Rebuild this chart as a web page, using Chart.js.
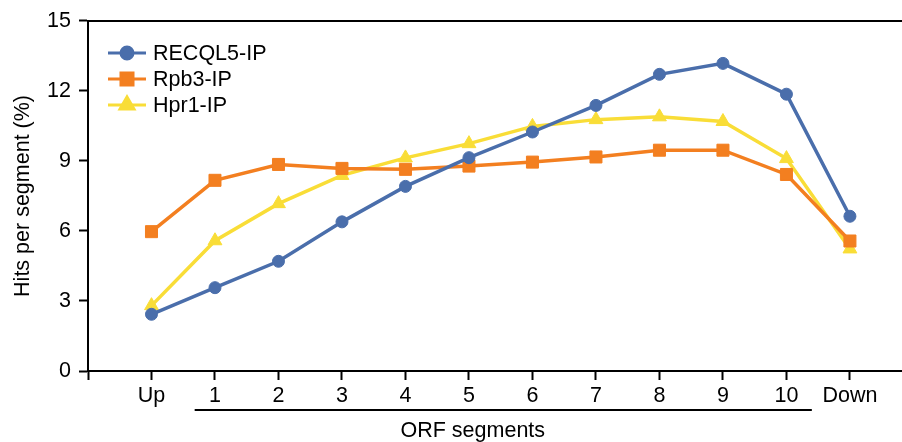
<!DOCTYPE html>
<html>
<head>
<meta charset="utf-8">
<script src="https://cdn.jsdelivr.net/npm/chart.js@4/dist/chart.umd.min.js"></script>
<style>
  html, body { margin: 0; padding: 0; background: #fff; overflow: hidden; }
  #wrap { width: 902px; height: 442px; position: relative; }
  canvas { display: block; }
</style>
</head>
<body>
<div id="wrap"><canvas id="chart"></canvas></div>
<script>
// segments along the gene
const categories = ['Up', '1', '2', '3', '4', '5', '6', '7', '8', '9', '10', 'Down'];
const yTicks = [0, 3, 6, 9, 12, 15];

// hits per segment (%)
const recql5 = [2.43, 3.57, 4.70, 6.39, 7.91, 9.14, 10.24, 11.38, 12.71, 13.18, 11.86, 6.63];
const rpb3 = [5.97, 8.17, 8.85, 8.68, 8.64, 8.78, 8.95, 9.17, 9.46, 9.46, 8.42, 5.57];
const hpr1 = [2.8, 5.58, 7.17, 8.38, 9.13, 9.74, 10.48, 10.77, 10.89, 10.69, 9.10, 5.23];

const seriesNames = ['RECQL5-IP', 'Rpb3-IP', 'Hpr1-IP'];
const colors = ['#4a6eab', '#f37f20', '#f9dd37'];
const FONT = "'Liberation Sans', Arial, sans-serif";

const toPoints = (arr) => arr.map((v, i) => ({ x: i, y: v }));

const makeSet = (label, data, color, style, radius) => ({
  label: label,
  data: toPoints(data),
  borderColor: color,
  backgroundColor: color,
  borderWidth: 3.5,
  pointStyle: style,
  pointRadius: radius,
  pointHoverRadius: radius,
  pointBorderWidth: 1,
  tension: 0
});

//draws legend, top frame line, ORF bracket and label
const extras = {
  id: 'extras',
  afterLayout(chart) {
    // let the plot run to the right edge of the canvas
    const x = chart.scales.x;
    chart.chartArea.right = chart.width;
    chart.chartArea.width = chart.chartArea.right - chart.chartArea.left;
    x.right = chart.width;
    x.width = x.right - x.left;
    x.configure();
  },
  afterDraw(chart) {
    const ctx = chart.ctx;
    const area = chart.chartArea;
    const x = chart.scales.x;
    ctx.save();
    ctx.strokeStyle = '#000';
    ctx.lineWidth = 2;
    ctx.beginPath();
    ctx.moveTo(area.left - 1, area.top);
    ctx.lineTo(area.right, area.top);
    ctx.stroke();

    // bracket under ORF segments
    ctx.beginPath();
    ctx.moveTo(x.getPixelForValue(0.68), 410);
    ctx.lineTo(x.getPixelForValue(10.4), 410);
    ctx.stroke();

    ctx.fillStyle = '#000';
    ctx.font = '21.5px ' + FONT;
    ctx.textAlign = 'center';
    ctx.textBaseline = 'middle';
    ctx.fillText('ORF segments', x.getPixelForValue(5.06), 431);

    // legend
    const styles = ['circle', 'rect', 'triangle'];
    const radii = [6, 8.5, 8];
    seriesNames.forEach((name, i) => {
      const y = 53 + i * 26;
      ctx.strokeStyle = colors[i];
      ctx.fillStyle = colors[i];
      ctx.lineWidth = 3;
      ctx.beginPath();
      ctx.moveTo(108, y);
      ctx.lineTo(146, y);
      ctx.stroke();
      Chart.helpers.drawPoint(ctx, { pointStyle: styles[i], radius: radii[i], borderWidth: 1, rotation: 0 }, 127, y);
      ctx.fillStyle = '#000';
      ctx.textAlign = 'left';
      ctx.fillText(name, 153, y + 1);
    });
    ctx.restore();
  }
};

new Chart(document.getElementById('chart'), {
  type: 'line',
  data: {
    datasets: [
      makeSet(seriesNames[0], recql5, colors[0], 'circle', 6),
      makeSet(seriesNames[1], rpb3, colors[1], 'rect', 8.5),
      makeSet(seriesNames[2], hpr1, colors[2], 'triangle', 8)
    ]
  },
  options: {
    responsive: true,
    maintainAspectRatio: false,
    animation: false,
    layout: { padding: { top: 19, right: 0, bottom: 0, left: 0 } },
    plugins: {
      legend: { display: false },
      tooltip: { enabled: false }
    },
    scales: {
      x: {
        type: 'linear',
        min: -1,
        max: 11.82,
        afterBuildTicks: (scale) => {
          scale.ticks = [];
          for (let i = -1; i < categories.length; i++) scale.ticks.push({ value: i });
        },
        afterFit: (scale) => { scale.height = 71; },
        ticks: {
          color: '#000',
          font: { family: FONT, size: 21.5 },
          padding: 3,
          maxRotation: 0,
          autoSkip: false,
          callback: (v) => (v >= 0 && v < categories.length ? categories[v] : '')
        },
        grid: { drawOnChartArea: false, drawTicks: true, tickLength: 9, tickColor: '#000', tickWidth: 2 },
        border: { color: '#000', width: 2 }
      },
      y: {
        min: 0,
        max: 15,
        afterBuildTicks: (scale) => {
          scale.ticks = yTicks.map((v) => ({ value: v }));
        },
        afterFit: (scale) => { scale.width = 88; },
        ticks: {
          color: '#000',
          font: { family: FONT, size: 21.5 },
          padding: 8
        },
        title: {
          display: true,
          text: 'Hits per segment (%)',
          color: '#000',
          font: { family: FONT, size: 21.5 },
          padding: { top: 10, bottom: 0 }
        },
        grid: { drawOnChartArea: false, drawTicks: true, tickLength: 9, tickColor: '#000', tickWidth: 2 },
        border: { color: '#000', width: 2 }
      }
    }
  },
  plugins: [extras]
});
</script>
</body>
</html>
